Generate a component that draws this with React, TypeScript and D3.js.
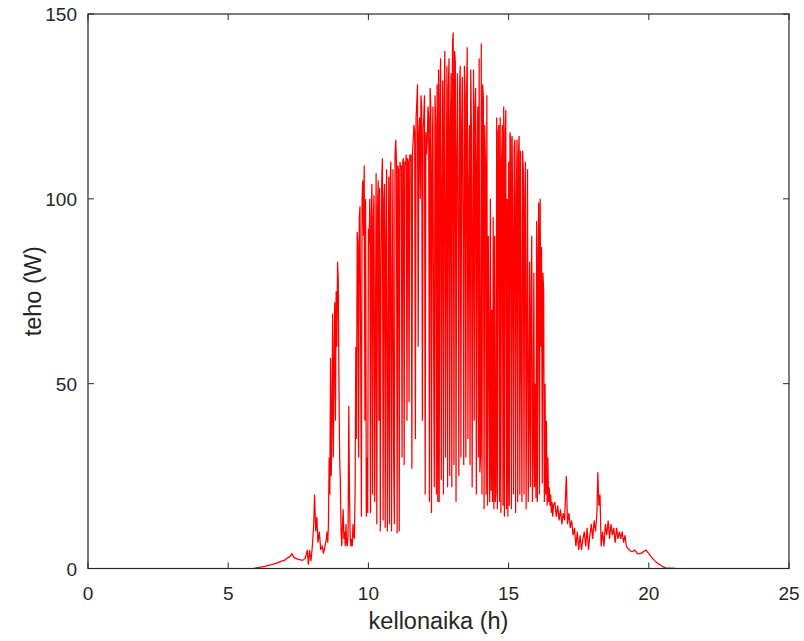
import React from "react";
import * as d3 from "d3";

// ---- data (hour of day, power in W) ----
const morningHours = [0, 5.9, 6.1, 6.3, 6.5, 6.7, 6.9, 7.0, 7.1, 7.2, 7.27, 7.35, 7.45, 7.55, 7.65, 7.75, 7.82, 7.86, 7.9, 7.95, 8.0, 8.05, 8.08, 8.12, 8.16, 8.2, 8.25, 8.3, 8.35, 8.4, 8.45];
const morningPower = [0, 0, 0.3, 0.6, 1, 1.4, 2, 2.2, 2.8, 3.2, 4, 3, 2.6, 2.4, 2.2, 2.8, 5, 1, 5, 2, 6, 12, 20, 10, 14, 7, 10, 5, 6, 4, 6];

// midday: sampled every 1.5 minutes (0.025 h) from 8.50 h
const middayStart = 8.5;
const middayStep = 0.025;
const middayPower = [
  8, 10, 7, 12, 30, 20, 57, 25, 40, 69, 30, 55, 72, 40, 75, 60, 83, 78, 50, 30, // 8.50
  23, 10, 6, 12, 16, 8, 10, 6, 12, 7, 6, 9, 44, 20, 9, 6, 8, 6, 12, 9, // 9.00
  8, 20, 60, 35, 91, 88, 30, 95, 98, 60, 14, 100, 105, 90, 109, 40, 100, 14, 30, 15, // 9.50
  92, 88, 100, 15, 95, 104, 20, 95, 101, 18, 60, 107, 12, 98, 105, 40, 103, 10, 80, 105, // 10.00
  111, 13, 100, 104, 11, 90, 108, 10, 50, 106, 12, 104, 110, 10, 70, 108, 30, 12, 112, 116, // 10.50
  110, 9.5, 109, 108, 10, 110, 108, 109, 30, 110, 111, 28, 110, 109, 112, 40, 111, 110, 45, 112, // 11.00
  110, 112, 27, 113, 116, 120, 118, 35, 122, 126, 131, 60, 118, 122, 100, 128, 125, 40, 119, 122, // 11.50
  128, 20, 118, 112, 116, 125, 122, 18, 130, 125, 15, 110, 125, 60, 22, 128, 120, 20, 131, 18, // 12.00
  135, 18, 128, 138, 24, 100, 132, 20, 125, 140, 30, 90, 136, 22, 130, 138, 25, 120, 134, 22, // 12.50
  142, 145, 28, 140, 137, 18, 110, 134, 92, 25, 130, 136, 30, 120, 133, 92, 28, 136, 128, 30, // 13.00
  128, 141, 35, 100, 120, 28, 135, 118, 22, 90, 135, 40, 125, 130, 20, 110, 125, 30, 138, 26, // 13.50
  30, 142, 20, 131, 127, 16, 120, 110, 20, 128, 17, 90, 60, 18, 100, 21, 70, 18, 95, 16, // 14.00
  90, 18, 21, 122, 16, 118, 120, 18, 122, 15, 110, 120, 17, 125, 14, 118, 124, 16, 100, 14, // 14.50
  110, 17, 118, 116, 16, 117, 90, 20, 114, 116, 15, 100, 116, 18, 112, 117, 20, 113, 60, 18, // 15.00
  113, 108, 20, 100, 110, 16, 60, 108, 18, 40, 83, 22, 70, 90, 18, 30, 80, 22, 50, 19, // 15.50
  94, 18, 85, 99, 20, 100, 60, 87, 23, 80, 75, 18, 50, 20, 40, 17, 30, 18, 22, 17, // 16.00
  20, 15, 18, 14, 17, // 16.50
];

const eveningHours = [16.65, 16.7, 16.75, 16.8, 16.85, 16.9, 16.95, 17.0, 17.03, 17.06, 17.1, 17.15, 17.2, 17.25, 17.3, 17.35, 17.4, 17.45, 17.5, 17.55, 17.6, 17.65, 17.7, 17.75, 17.8, 17.85, 17.9, 17.95, 18.0, 18.05, 18.1, 18.15, 18.18, 18.22, 18.26, 18.3, 18.35, 18.4, 18.45, 18.5, 18.55, 18.6, 18.65, 18.7, 18.75, 18.8, 18.85, 18.9, 18.95, 19.0, 19.05, 19.1, 19.15, 19.2, 19.3, 19.4, 19.5, 19.6, 19.7, 19.8, 19.9, 20.0, 20.1, 20.2, 20.3, 20.4, 20.5, 20.6, 20.8, 21.0, 25];
const eveningPower = [18, 14, 17, 13, 16, 12, 15, 13, 20, 25, 12, 15, 11, 13, 9, 11, 6, 10, 5, 9, 5, 8, 10, 6, 11, 5, 9, 12, 8, 13, 10, 15, 26, 17, 20, 6, 10, 6, 12, 9, 13, 8, 12, 9, 11, 7, 11, 8, 10, 8, 10, 7, 9, 6, 5, 4.5, 5, 4, 4, 4.5, 5, 4, 3, 2.2, 1.5, 1, 0.5, 0.2, 0.1, 0, 0];

const xTicks = [0, 5, 10, 15, 20, 25];
const yTicks = [0, 50, 100, 150];
const xLabel = "kellonaika (h)";
const yLabel = "teho (W)";

type Pt = [number, number];

function buildSeries(): Pt[] {
  const pts: Pt[] = [];
  morningHours.forEach((h, i) => pts.push([h, morningPower[i]]));
  middayPower.forEach((v, i) => pts.push([middayStart + i * middayStep, v]));
  eveningHours.forEach((h, i) => pts.push([h, eveningPower[i]]));
  return pts;
}

export default function App() {
  const W = 804;
  const H = 641;
  const left = 88;
  const right = 789;
  const top = 14;
  const bottom = 568.5;

  const x = d3.scaleLinear().domain([0, 25]).range([left, right]);
  const y = d3.scaleLinear().domain([0, 150]).range([bottom, top]);

  const data = buildSeries();
  const line = d3
    .line<Pt>()
    .x((d) => x(d[0]))
    .y((d) => y(d[1]));

  const axisColor = "#262626";
  const font = "'Liberation Sans', Arial, Helvetica, sans-serif";
  const tickLen = 6;

  return (
    <div style={{ position: "absolute", left: 0, top: 0 }}>
      <svg width={W} height={H} style={{ display: "block", background: "#fff" }}>
        <defs>
          <clipPath id="plotclip">
            <rect x={left} y={top - 1} width={right - left} height={bottom - top + 1} />
          </clipPath>
        </defs>
        <rect x={0} y={0} width={W} height={H} fill="#ffffff" />
        <path
          d={line(data) || ""}
          fill="none"
          stroke="#ff0000"
          strokeWidth={1.25}
          strokeLinejoin="miter"
          clipPath="url(#plotclip)"
        />
        {/* box */}
        <rect
          x={left}
          y={top}
          width={right - left}
          height={bottom - top}
          fill="none"
          stroke={axisColor}
          strokeWidth={1.2}
        />
        {/* x ticks */}
        {xTicks.map((t) => (
          <g key={"x" + t}>
            <line x1={x(t)} x2={x(t)} y1={bottom} y2={bottom - tickLen} stroke={axisColor} strokeWidth={1} />
            <line x1={x(t)} x2={x(t)} y1={top} y2={top + tickLen} stroke={axisColor} strokeWidth={1} />
            <text
              x={x(t)}
              y={bottom + 31}
              textAnchor="middle"
              fontFamily={font}
              fontSize={19}
              fill={axisColor}
            >
              {t}
            </text>
          </g>
        ))}
        {/* y ticks */}
        {yTicks.map((t) => (
          <g key={"y" + t}>
            <line x1={left} x2={left + tickLen} y1={y(t)} y2={y(t)} stroke={axisColor} strokeWidth={1} />
            <line x1={right} x2={right - tickLen} y1={y(t)} y2={y(t)} stroke={axisColor} strokeWidth={1} />
            <text
              x={left - 11}
              y={y(t) + 7}
              textAnchor="end"
              fontFamily={font}
              fontSize={19}
              fill={axisColor}
            >
              {t}
            </text>
          </g>
        ))}
        <text
          x={(left + right) / 2}
          y={629}
          textAnchor="middle"
          fontFamily={font}
          fontSize={23.5}
          fill={axisColor}
        >
          {xLabel}
        </text>
        <text
          transform={`translate(41, ${(top + bottom) / 2}) rotate(-90)`}
          textAnchor="middle"
          fontFamily={font}
          fontSize={23.5}
          fill={axisColor}
        >
          {yLabel}
        </text>
      </svg>
    </div>
  );
}
